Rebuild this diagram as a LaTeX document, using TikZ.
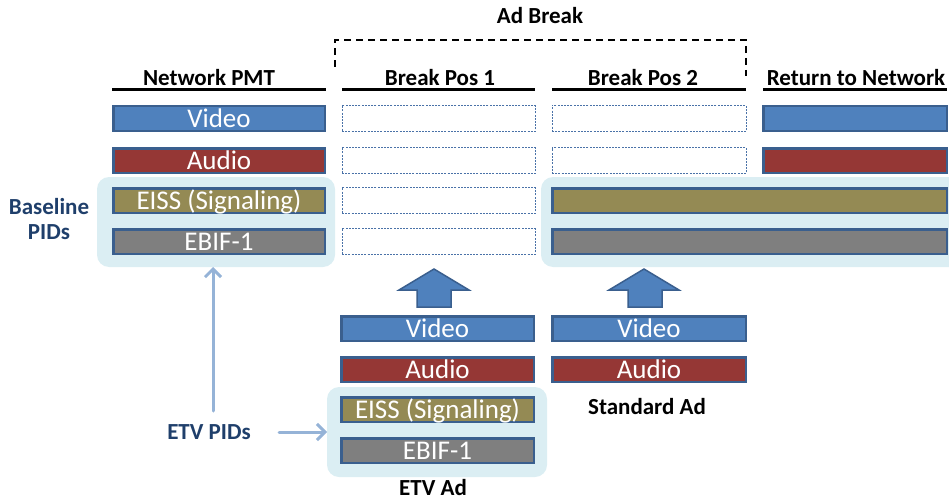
\documentclass[tikz,border=0pt]{standalone}
\usepackage{fontspec}
\setmainfont{Carlito}
\usetikzlibrary{arrows.meta}
\definecolor{vid}{HTML}{4F81BD}
\definecolor{aud}{HTML}{953735}
\definecolor{eiss}{HTML}{948A54}
\definecolor{ebif}{HTML}{7F7F7F}
\definecolor{bord}{HTML}{3A5F8E}
\definecolor{lbox}{HTML}{DBEEF3}
\definecolor{lblue}{HTML}{95B3D7}
\definecolor{navy}{HTML}{1F3F6B}
\definecolor{dash}{HTML}{4A72A8}
\tikzset{
  bar/.style={draw=bord, line width=2.5pt, inner sep=0pt, text=white,
    font=\fontsize{27}{27}\selectfont, text height=17.5pt, text depth=0pt,
    minimum height=24.5pt},
  emptybox/.style={draw=dash, line width=0.7pt, dash pattern=on 2pt off 1.2pt,
    inner sep=0pt, minimum height=26pt},
  hdr/.style={font=\bfseries\fontsize{23}{23}\selectfont, anchor=base, inner sep=0pt},
  pidlbl/.style={font=\bfseries\fontsize{23}{25}\selectfont, text=navy, align=center, inner sep=0pt},
  hline/.style={line width=3pt},
  lightbox/.style={fill=lbox, rounded corners=12pt},
  blockarrow/.style={fill=vid, draw=bord, line width=1.5pt, line join=miter},
  thinarrow/.style={draw=lblue, line width=3pt, line cap=round,
    -{Straight Barb[length=8pt,width=16pt,line width=3pt]}}
}
\begin{document}
\begin{tikzpicture}[x=1pt,y=-1pt]
\useasboundingbox (0,0) rectangle (949,500);

% light blue groups
\fill[lightbox] (97,177) rectangle (335,267);
\begin{scope}
\clip (0,0) rectangle (949,500);
\fill[lightbox] (541,177) rectangle (975,267);
\end{scope}
\fill[lightbox] (327,387) rectangle (547,477);

% headers
\node[hdr] (adbreak) at (540,24) {Ad Break};
\draw[line width=1.6pt, dash pattern=on 7pt off 5pt] (335,67) -- (335,40) -- (746,40) -- (746,76);
\node[hdr] (h1) at (209,86) {Network PMT};
\node[hdr] (h2) at (440,86) {Break Pos 1};
\node[hdr] (h3) at (643,86) {Break Pos 2};
\node[hdr] (h4) at (856,86) {Return to Network};
\draw[hline] (112,90) -- (326,90);
\draw[hline] (342,90) -- (535,90);
\draw[hline] (552,90) -- (746,90);
\draw[hline] (763,90) -- (947,90);

% Network PMT column
\node[bar, fill=vid, minimum width=211.5pt] (nv) at (219,118.5) {Video};
\node[bar, fill=aud, minimum width=211.5pt] (na) at (219,160.5) {Audio};
\node[bar, fill=eiss, minimum width=211.5pt] (ne) at (219,200.5) {EISS (Signaling)};
\node[bar, fill=ebif, minimum width=211.5pt] (nb) at (219,241.5) {EBIF-1};

% Break Pos 1 (empty)
\node[emptybox, minimum width=193pt] (p1v) at (438.5,118.5) {};
\node[emptybox, minimum width=193pt] (p1a) at (438.5,160.5) {};
\node[emptybox, minimum width=193pt] (p1e) at (438.5,200.5) {};
\node[emptybox, minimum width=193pt] (p1b) at (438.5,241.5) {};

% Break Pos 2 (empty)
\node[emptybox, minimum width=194pt] (p2v) at (649,118.5) {};
\node[emptybox, minimum width=194pt] (p2a) at (649,160.5) {};

% Return to Network
\node[bar, fill=vid, minimum width=183.5pt] (rv) at (855,118.5) {};
\node[bar, fill=aud, minimum width=183.5pt] (ra) at (855,160.5) {};
\node[bar, fill=eiss, minimum width=394.5pt] (re) at (749.5,200.5) {};
\node[bar, fill=ebif, minimum width=394.5pt] (rb) at (749.5,241.5) {};

% Baseline PIDs label
\node[pidlbl] (base) at (49,219) {Baseline\\PIDs};

% block arrows
\draw[blockarrow] (417,307) -- (417,290) -- (399,290) -- (434,269) -- (469,290) -- (451,290) -- (451,307) -- cycle;
\draw[blockarrow] (628,307) -- (628,290) -- (609,290) -- (644,269) -- (679,290) -- (662,290) -- (662,307) -- cycle;

% ETV Ad column
\node[bar, fill=vid, minimum width=192.5pt] (ev) at (437.5,328.5) {Video};
\node[bar, fill=aud, minimum width=192.5pt] (ea) at (437.5,369.5) {Audio};
\node[bar, fill=eiss, minimum width=192.5pt] (ee) at (437.5,409.5) {EISS (Signaling)};
\node[bar, fill=ebif, minimum width=192.5pt] (eb) at (437.5,450.5) {EBIF-1};
\node[hdr] (etvad) at (433,495) {ETV Ad};

% Standard Ad column
\node[hdr] (stdad) at (647,414) {Standard Ad};

% Standard Ad column bars
\node[bar, fill=vid, minimum width=193.5pt] (sv) at (649,328.5) {Video};
\node[bar, fill=aud, minimum width=193.5pt] (sa) at (649,369.5) {Audio};

% ETV PIDs
\node[pidlbl] (etvpids) at (209,432) {ETV PIDs};
\coordinate (etvbox) at (327,432);
\coordinate (basebox) at (213,267);
\coordinate (vstart) at (213,411);
\coordinate (hstart) at (279,432);
\draw[thinarrow] (hstart) -- (etvbox);
\draw[thinarrow] (vstart) -- (basebox);
\end{tikzpicture}
\end{document}
